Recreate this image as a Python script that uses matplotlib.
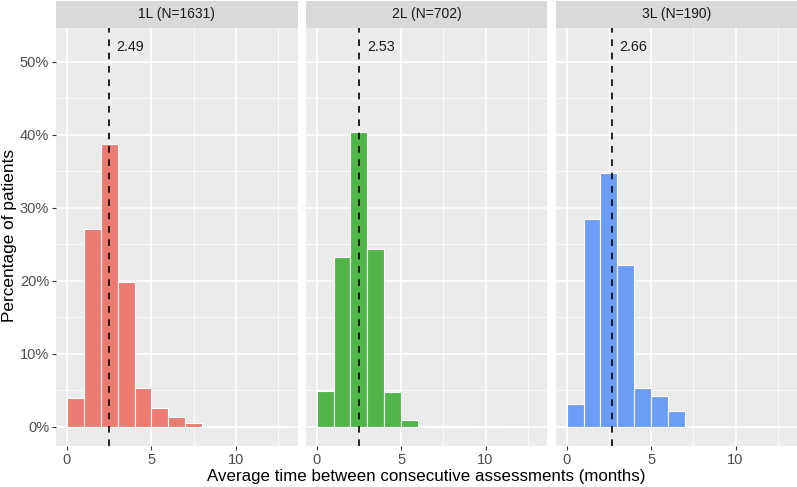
import numpy as np
import matplotlib.pyplot as plt

plt.rcParams['font.family'] = ['Liberation Sans', 'DejaVu Sans']

# données (pourcentage de patients par tranche de 1 mois)
bins = np.arange(0, 14)  # bornes 0..13
titres = ["1L (N=1631)", "2L (N=702)", "3L (N=190)"]
pct_1L = [4.0, 27.1, 38.7, 19.8, 5.3, 2.5, 1.4, 0.5, 0.05, 0.1, 0.1, 0.05, 0.05]
pct_2L = [4.9, 23.2, 40.4, 24.4, 4.8, 0.9, 0.15, 0.15, 0.05, 0.0, 0.15, 0.0, 0.0]
pct_3L = [3.1, 28.4, 34.7, 22.1, 5.3, 4.2, 2.1, 0, 0, 0, 0, 0, 0]
moyennes = [2.49, 2.53, 2.66]
couleurs = ["#EC7C71", "#52B54A", "#6B9DF7"]

series = [pct_1L, pct_2L, pct_3L]

W, H = 797, 487
fig = plt.figure(figsize=(W / 100, H / 100), dpi=100)

gauches = [56, 305.7, 555.7]
larg = 241.5
haut_panel = 27.5
bas_panel = 445.7

for k in range(3):
    x0 = gauches[k] / W
    ax = fig.add_axes([x0, 1 - bas_panel / H, larg / W, (bas_panel - haut_panel) / H])
    ax.set_facecolor("#EBEBEB")
    ax.bar(bins[:-1], series[k], width=1, align='edge', color=couleurs[k],
           edgecolor='white', linewidth=0.8, zorder=3)
    ax.axvline(moyennes[k], color='black', linestyle=(0, (4, 4)), linewidth=1.2, zorder=4)
    ax.text(moyennes[k] + 0.45, 52, "%.2f" % moyennes[k], fontsize=10.3,
            color='#1A1A1A', va='center', ha='left', zorder=5)
    ax.set_xlim(-0.65, 13.65)
    ax.set_ylim(-2.6, 54.7)
    ax.set_xticks([0, 5, 10])
    ax.set_xticks([2.5, 7.5, 12.5], minor=True)
    ax.set_yticks([0, 10, 20, 30, 40, 50])
    ax.set_yticks([5, 15, 25, 35, 45], minor=True)
    ax.grid(which='major', color='white', linewidth=1.1, zorder=0)
    ax.grid(which='minor', color='white', linewidth=0.55, zorder=0)
    ax.set_axisbelow(True)
    for s in ax.spines.values():
        s.set_visible(False)
    ax.tick_params(which='major', length=3, width=0.8, color='#333333',
                   labelcolor='#4D4D4D', labelsize=10.5, pad=2)
    ax.tick_params(which='minor', length=0)
    if k == 0:
        ax.set_yticklabels(["0%", "10%", "20%", "30%", "40%", "50%"])
    else:
        ax.tick_params(axis='y', which='major', length=0, labelleft=False)

    # bandeau du facet
    ax_s = fig.add_axes([x0, 1 - haut_panel / H, larg / W, (haut_panel - 1) / H])
    ax_s.set_facecolor("#D9D9D9")
    ax_s.set_xticks([]); ax_s.set_yticks([])
    for s in ax_s.spines.values():
        s.set_visible(False)
    ax_s.text(0.5, 0.5, titres[k], transform=ax_s.transAxes, ha='center', va='center',
              fontsize=10, color='#1A1A1A')

fig.text((56 + 797) / 2 / W, 1 - 476 / H, "Average time between consecutive assessments (months)",
         ha='center', va='center', fontsize=12.2, color='black')
fig.text(10 / W, 1 - 236 / H, "Percentage of patients", rotation=90,
         ha='center', va='center', fontsize=12.4, color='black')

fig.savefig("out.png", dpi=100)
